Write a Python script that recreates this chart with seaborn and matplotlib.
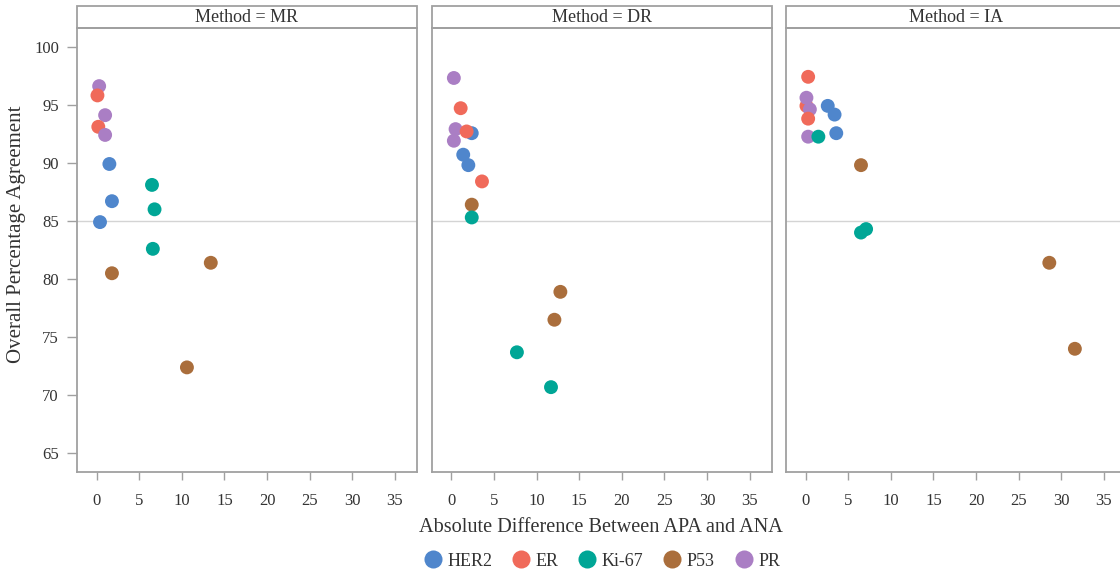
import pandas as pd
import numpy as np
import matplotlib
matplotlib.use("Agg")
import matplotlib.pyplot as plt
from matplotlib.patches import Rectangle
import seaborn as sns

methods = ["MR", "DR", "IA"]
markers = ["HER2", "ER", "Ki-67", "P53", "PR"]
colors = ["#4F86CC", "#F06A5A", "#00A696", "#AA6E3C", "#AA7EC4"]

# MR
mr_marker = ["PR", "ER", "PR", "ER", "PR", "HER2", "HER2", "HER2",
             "Ki-67", "Ki-67", "Ki-67", "P53", "P53", "P53"]
mr_diff = [0.3, 0.1, 1.0, 0.2, 1.0, 1.5, 1.8, 0.4, 6.5, 6.8, 6.6, 1.8, 13.4, 10.6]
mr_opa = [96.6, 95.8, 94.1, 93.1, 92.4, 89.9, 86.7, 84.9, 88.1, 86.0, 82.6, 80.5, 81.4, 72.4]

# DR
dr_marker = ["PR", "ER", "PR", "HER2", "ER", "PR", "HER2", "HER2", "ER",
             "P53", "Ki-67", "P53", "P53", "Ki-67", "Ki-67"]
dr_diff = [0.3, 1.1, 0.5, 2.4, 1.8, 0.3, 1.4, 2.0, 3.6, 2.4, 2.4, 12.8, 12.1, 7.7, 11.7]
dr_opa = [97.3, 94.7, 92.9, 92.55, 92.7, 91.9, 90.7, 89.8, 88.4, 86.4, 85.3, 78.9, 76.5, 73.7, 70.7]

# IA
ia_marker = ["ER", "ER", "PR", "PR", "ER", "HER2", "HER2", "HER2", "PR",
             "Ki-67", "P53", "Ki-67", "Ki-67", "P53", "P53"]
ia_diff = [0.3, 0.1, 0.1, 0.5, 0.3, 2.6, 3.4, 3.6, 0.3, 1.5, 6.5, 6.5, 7.1, 28.6, 31.6]
ia_opa = [97.4, 94.9, 95.6, 94.6, 93.8, 94.9, 94.15, 92.55, 92.25, 92.25, 89.8, 84.0, 84.3, 81.4, 74.0]

df = pd.concat([
    pd.DataFrame({"Method": "MR", "Marker": mr_marker, "Diff": mr_diff, "OPA": mr_opa}),
    pd.DataFrame({"Method": "DR", "Marker": dr_marker, "Diff": dr_diff, "OPA": dr_opa}),
    pd.DataFrame({"Method": "IA", "Marker": ia_marker, "Diff": ia_diff, "OPA": ia_opa}),
], ignore_index=True)

sns.set_style("white")
plt.rcParams["font.family"] = ["Liberation Serif", "DejaVu Serif"]

gray = "#a0a0a0"
txt = "#333333"

g = sns.relplot(data=df, x="Diff", y="OPA", col="Method", col_order=methods,
                hue="Marker", hue_order=markers, palette=colors,
                s=100, linewidth=0, alpha=1, height=4, aspect=0.8)
fig = g.figure
fig.set_size_inches(11.2, 5.73)

W, H = 1120, 573
lefts = [77, 431.7, 786]
width = 340
bottom, top = 472, 28
for ax, m, l in zip(g.axes.flat, methods, lefts):
    ax.set_position([l / W, 1 - bottom / H, width / W, (bottom - top) / H])
    ax.set_xlim(-2.3, 37.6)
    ax.set_ylim(63.4, 101.6)
    ax.set_xticks(range(0, 36, 5))
    ax.set_yticks(range(65, 101, 5))
    ax.axhline(85, color="#d4d4d4", lw=1, zorder=0)
    ax.set_title("")
    ax.set_xlabel("")
    ax.set_ylabel("")
    for s in ax.spines.values():
        s.set_visible(True)
        s.set_color(gray)
        s.set_linewidth(1.3)
    ax.tick_params(axis="x", bottom=True, length=6, width=1, color=gray,
                   pad=9, labelsize=12, labelcolor=txt)
    ax.tick_params(axis="y", left=(m == "MR"), labelleft=(m == "MR"), length=7,
                   width=1, color=gray, pad=6, labelsize=12, labelcolor=txt)
    sh = 22 / (bottom - top)
    ax.add_patch(Rectangle((0, 1), 1, sh, transform=ax.transAxes, clip_on=False,
                           facecolor="white", edgecolor=gray, lw=1.3))
    ax.text(0.5, 1 + sh / 2, f"Method = {m}", transform=ax.transAxes,
            ha="center", va="center", fontsize=13, color=txt)

fig.text(601 / W, 1 - 528 / H, "Absolute Difference Between APA and ANA",
         ha="center", va="center", fontsize=14.6, color=txt)
fig.text(17 / W, 1 - 234 / H, "Overall Percentage Agreement", rotation=90,
         ha="center", va="center", fontsize=15, color=txt)

sns.move_legend(g, "center", bbox_to_anchor=(601 / W, 1 - 561 / H), ncol=5,
                title=None, frameon=False, fontsize=13, handletextpad=0.2,
                handlelength=1.2, columnspacing=1.0, markerscale=1.3)
for t in g._legend.get_texts():
    t.set_color(txt)

fig.savefig("out.png", dpi=100)
